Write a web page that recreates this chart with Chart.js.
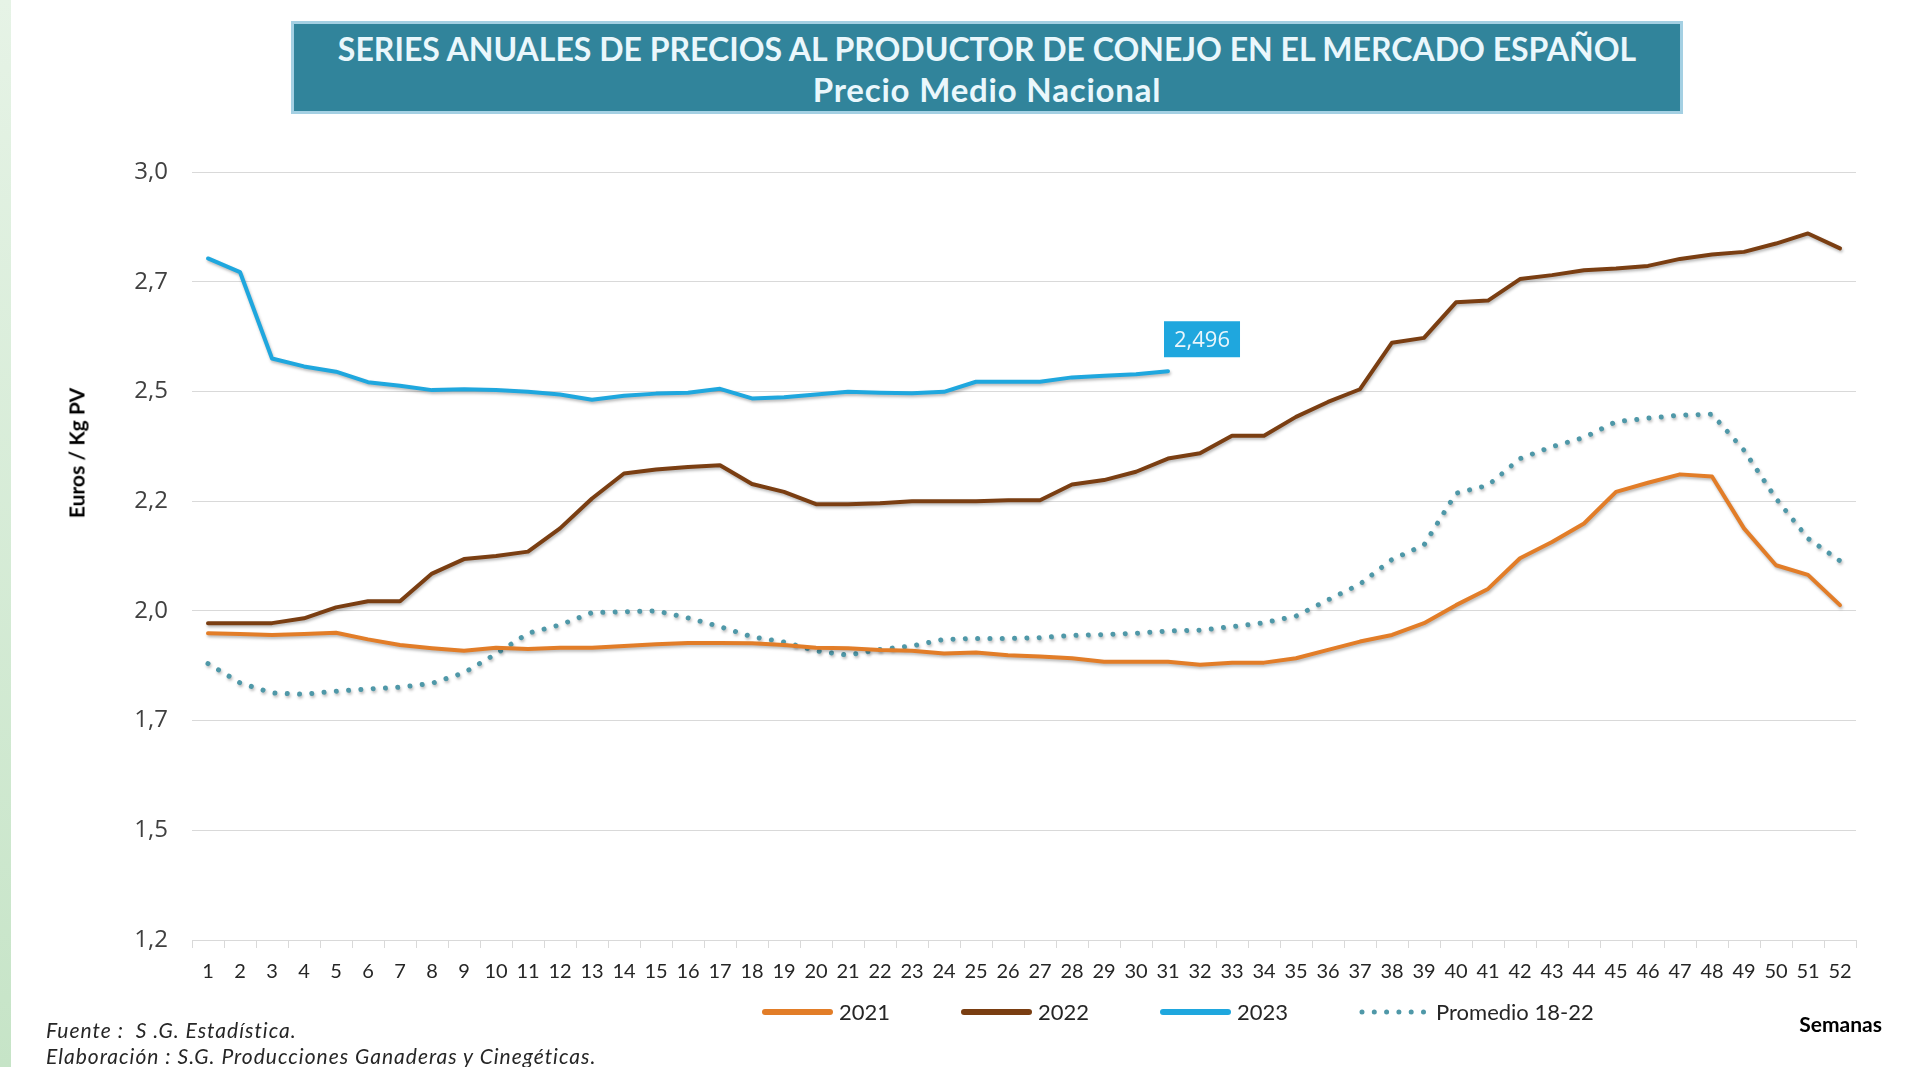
<!DOCTYPE html>
<html lang="es">
<head>
<meta charset="utf-8">
<title>Precios al productor de conejo</title>
<script src="https://cdn.jsdelivr.net/npm/chart.js@4.4.1/dist/chart.umd.min.js"></script>
<style>
  html, body { margin: 0; padding: 0; background: #fff; }
  body { width: 1915px; height: 1067px; position: relative; overflow: hidden; font-family: Lato, sans-serif; }
  #franja { position: absolute; left: 0; top: 0; width: 11px; height: 1067px; background: linear-gradient(#E6F3E6, #C6E4C7); }
  #caja { position: absolute; left: 0; top: 0; width: 1915px; height: 1067px; }
  #titulo { position: absolute; left: 291px; top: 21px; width: 1392px; height: 93px; box-sizing: border-box;
            background: #31849B; border: 3px solid #A4D0E3; color: #EAF7FC; font-weight: 700; font-size: 32px;
            line-height: 41px; text-align: center; padding-top: 4px; white-space: nowrap; }
  #titulo span { font-size: 33px; letter-spacing: 0.8px; }
  #ejeY { position: absolute; left: 76px; top: 453px; transform: translate(-50%, -50%) rotate(-90deg);
          font-weight: 700; font-size: 21px; color: #000; white-space: nowrap; }
  #leyenda { position: absolute; left: 761px; top: 998px; display: flex; align-items: center; font-size: 22px;
             color: #262626; white-space: nowrap; }
  .item { display: flex; align-items: center; width: 199px; flex: none; }
  .item:last-child { width: auto; }
  .item svg { margin-right: 5px; }
  .nota { position: absolute; left: 46px; font-style: italic; font-size: 21px; letter-spacing: 1px; color: #262626; white-space: pre; }
  #semanas { position: absolute; right: 33px; top: 1011px; font-weight: 700; font-size: 21px; color: #000; }
</style>
</head>
<body>
<div id="franja"></div>
<div id="caja"><canvas id="grafico"></canvas></div>
<div id="titulo">SERIES ANUALES DE PRECIOS AL PRODUCTOR DE CONEJO EN EL MERCADO ESPAÑOL<br><span>Precio Medio Nacional</span></div>
<div id="ejeY">Euros / Kg PV</div>
<div id="leyenda"></div>
<div id="semanas">Semanas</div>
<div class="nota" style="top:1017px">Fuente :  S .G. Estadística.</div>
<div class="nota" style="top:1043px">Elaboración : S.G. Producciones Ganaderas y Cinegéticas.</div>
<script>
const semanas = ['1','2','3','4','5','6','7','8','9','10','11','12','13','14','15','16','17','18','19','20',
  '21','22','23','24','25','26','27','28','29','30','31','32','33','34','35','36','37','38','39','40',
  '41','42','43','44','45','46','47','48','49','50','51','52'];

const precios2021 = [1.899, 1.897, 1.895, 1.897, 1.900, 1.885, 1.872, 1.865, 1.859, 1.866, 1.863, 1.866, 1.866,
  1.870, 1.874, 1.877, 1.877, 1.876, 1.872, 1.866, 1.865, 1.861, 1.859, 1.853, 1.855, 1.849, 1.846,
  1.842, 1.834, 1.834, 1.834, 1.827, 1.832, 1.832, 1.842, 1.861, 1.880, 1.895, 1.922, 1.963, 2.000,
  2.070, 2.107, 2.149, 2.221, 2.242, 2.261, 2.256, 2.138, 2.054, 2.032, 1.963];

const precios2022 = [1.922, 1.922, 1.922, 1.933, 1.958, 1.972, 1.972, 2.035, 2.068, 2.075, 2.085, 2.138, 2.206,
  2.263, 2.272, 2.278, 2.282, 2.239, 2.221, 2.193, 2.193, 2.195, 2.200, 2.200, 2.200, 2.202, 2.202,
  2.238, 2.248, 2.267, 2.297, 2.309, 2.349, 2.349, 2.392, 2.426, 2.455, 2.561, 2.572, 2.653, 2.657,
  2.706, 2.715, 2.726, 2.730, 2.736, 2.752, 2.762, 2.768, 2.787, 2.810, 2.776];

const precios2023 = [2.753, 2.722, 2.525, 2.507, 2.495, 2.471, 2.463, 2.453, 2.455, 2.453, 2.449, 2.443, 2.431,
  2.440, 2.445, 2.447, 2.456, 2.434, 2.437, 2.443, 2.449, 2.447, 2.446, 2.449, 2.472, 2.472, 2.472,
  2.482, 2.486, 2.489, 2.496];

const promedio1822 = [1.830, 1.786, 1.763, 1.760, 1.767, 1.772, 1.776, 1.785, 1.809, 1.852, 1.899, 1.918, 1.946,
  1.948, 1.950, 1.934, 1.914, 1.891, 1.879, 1.859, 1.849, 1.862, 1.870, 1.885, 1.887, 1.887, 1.889,
  1.894, 1.896, 1.899, 1.904, 1.906, 1.914, 1.923, 1.938, 1.975, 2.011, 2.067, 2.100, 2.218, 2.236,
  2.297, 2.324, 2.345, 2.381, 2.389, 2.396, 2.398, 2.316, 2.206, 2.115, 2.064];

const etiquetasEjeY = ['1,2', '1,5', '1,7', '2,0', '2,2', '2,5', '2,7', '3,0'];

const colorAzul = '#1FA7DE';

// sombra suave bajo las lineas y etiqueta del ultimo valor de 2023
const sombraYEtiqueta = {
  id: 'sombraYEtiqueta',
  beforeDatasetsDraw(chart) {
    const ctx = chart.ctx;
    ctx.save();
    ctx.shadowColor = 'rgba(0,0,0,0.28)';
    ctx.shadowBlur = 3;
    ctx.shadowOffsetX = 1;
    ctx.shadowOffsetY = 2;
  },
  afterDatasetsDraw(chart) {
    const ctx = chart.ctx;
    ctx.restore();
    const meta = chart.getDatasetMeta(2);
    const p = meta.data[meta.data.length - 1];
    const texto = precios2023[precios2023.length - 1].toFixed(3).replace('.', ',');
    ctx.save();
    ctx.font = '22px "Open Sans"';
    const w = ctx.measureText(texto).width + 20;
    const h = 36;
    const x = p.x - 4;
    const y = p.y - 14 - h;
    ctx.fillStyle = colorAzul;
    ctx.fillRect(x, y, w, h);
    ctx.fillStyle = '#EAF6FC';
    ctx.textAlign = 'center';
    ctx.textBaseline = 'middle';
    ctx.fillText(texto, x + w / 2, y + h / 2 + 1);
    ctx.restore();
  }
};

const chart = new Chart(document.getElementById('grafico'), {
  type: 'line',
  data: {
    labels: semanas,
    datasets: [
      { label: '2021', data: precios2021, borderColor: '#E27D28', borderWidth: 4 },
      { label: '2022', data: precios2022, borderColor: '#7A3E12', borderWidth: 4 },
      { label: '2023', data: precios2023, borderColor: colorAzul, borderWidth: 4 },
      { label: 'Promedio 18-22', data: promedio1822, borderColor: '#4F98A8', borderWidth: 5,
        borderDash: [0.01, 12.3] }
    ]
  },
  options: {
    responsive: true,
    maintainAspectRatio: false,
    animation: false,
    layout: { padding: { left: 55, right: 59, top: 172, bottom: 67 } },
    elements: {
      point: { radius: 0, hoverRadius: 0 },
      line: { tension: 0, borderCapStyle: 'round', borderJoinStyle: 'round', fill: false }
    },
    plugins: {
      legend: { display: false },
      tooltip: { enabled: false }
    },
    scales: {
      x: {
        offset: true,
        grid: { drawOnChartArea: false, drawTicks: true, tickLength: 8, color: '#D9D9D9', offset: true },
        border: { display: true, color: '#D9D9D9' },
        ticks: { autoSkip: false, maxRotation: 0, padding: 12, color: '#262626',
                 font: { family: 'Lato', size: 20 } },
        afterFit(scale) { scale.height = 60; }
      },
      y: {
        min: 1.2,
        max: 2.95,
        grid: { color: '#D9D9D9', drawTicks: false },
        border: { display: false },
        ticks: { stepSize: 0.25, padding: 24, color: '#404040',
                 font: { family: 'Open Sans', size: 24 },
                 callback: (valor, i) => etiquetasEjeY[i] },
        afterFit(scale) { scale.width = 137; }
      }
    }
  },
  plugins: [sombraYEtiqueta]
});

// leyenda en HTML a partir de las series
const leyenda = document.getElementById('leyenda');
chart.data.datasets.forEach(ds => {
  const item = document.createElement('div');
  item.className = 'item';
  const dash = ds.borderDash ? 'stroke-dasharray="0 12.3"' : '';
  item.innerHTML = '<svg width="73" height="12"><line x1="4" y1="6" x2="69" y2="6" stroke="' + ds.borderColor +
    '" stroke-width="' + (ds.borderDash ? 5 : 6) + '" stroke-linecap="round" ' + dash + '/></svg><span>' + ds.label + '</span>';
  leyenda.appendChild(item);
});
</script>
</body>
</html>
